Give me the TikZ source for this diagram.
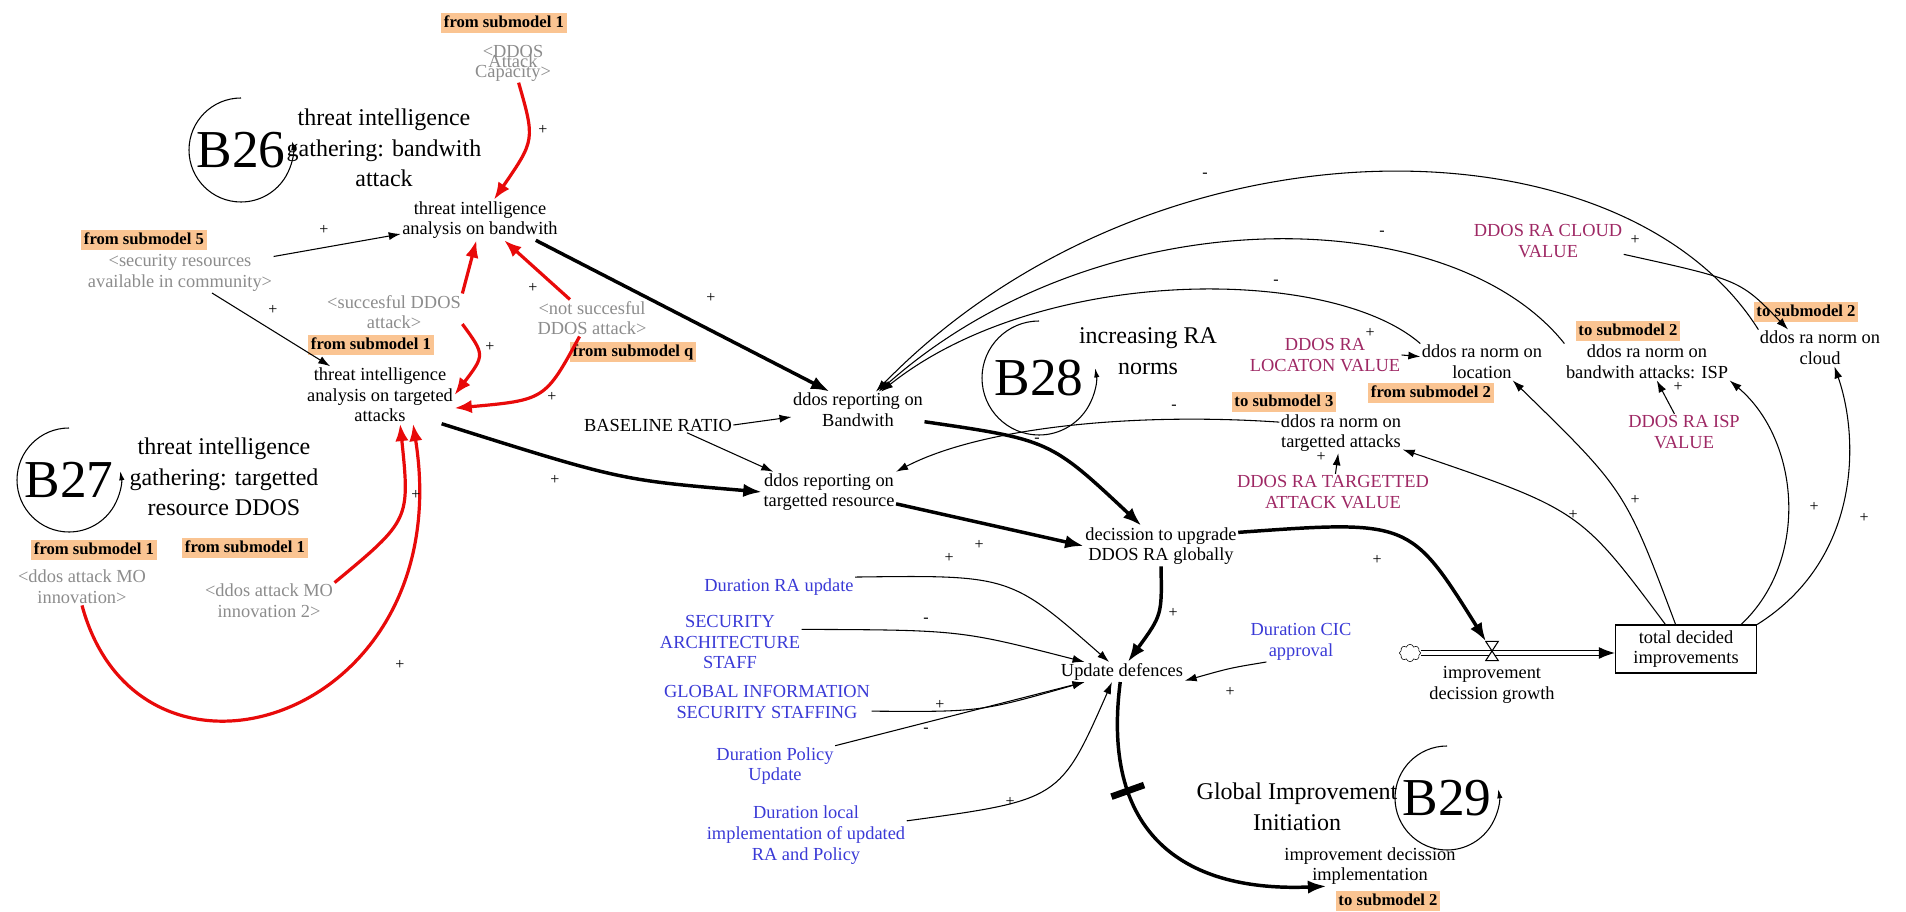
\documentclass[tikz,border=0pt]{standalone}
\usepackage{fontspec}
\setmainfont{Liberation Serif}
\usetikzlibrary{arrows.meta,shapes.symbols,positioning}

\definecolor{tagorange}{RGB}{250,196,146}
\definecolor{shadowgray}{RGB}{140,140,140}
\definecolor{constblue}{RGB}{58,58,214}
\definecolor{valuemagenta}{RGB}{158,40,100}
\definecolor{linkred}{RGB}{232,10,10}
\newcommand\squeezelines{\fontsize{13.8}{7.5}\selectfont\lineskiplimit=-20pt\lineskip=0pt\relax}

\begin{document}
\begin{tikzpicture}[x=0.75pt,y=-0.75pt,
  var/.style={align=center,inner sep=1pt,font=\fontsize{13.8}{15.5}\selectfont},
  shadow/.style={var,text=shadowgray},
  const/.style={var,text=constblue},
  value/.style={var,text=valuemagenta},
  tag/.style={fill=tagorange,inner xsep=2pt,inner ysep=1.5pt,text height=9.5pt,text depth=2.5pt,font=\fontsize{12.5}{14}\selectfont\bfseries},
  looplabel/.style={align=center,inner sep=1pt,font=\fontsize{18}{23}\selectfont},
  loopname/.style={inner sep=0pt,font=\fontsize{40}{40}\selectfont},
  looparc/.style={line width=0.8pt,-{Latex[length=7pt,width=4pt]}},
  link/.style={line width=0.8pt,-{Latex[length=9pt,width=6pt]}},
  thicklink/.style={line width=2.6pt,-{Latex[length=14pt,width=10pt]}},
  redlink/.style={line width=2.4pt,linkred,-{Latex[length=13pt,width=10pt]}},
  pipe/.style={line width=0.8pt,double,double distance=2.5pt,-{Latex[length=12pt,width=9pt]}},
  delaybar/.style={fill=black,inner sep=0pt,minimum width=5pt,minimum height=26pt},
  pol/.style={inner sep=0pt,font=\fontsize{12}{12}\selectfont},
]
\useasboundingbox (0,0) rectangle (1906,912);

% Loops
\node[loopname] (b26) at (241,150) {B26};
\node[looplabel] (b26lbl) at (384,148) {threat intelligence\\gathering: bandwith\\attack};
\draw[looparc] (b26) ++(0,-52) arc[start angle=-90,end angle=-370,radius=52];
\node[loopname] (b27) at (69,480) {B27};
\node[looplabel] (b27lbl) at (224,477) {threat intelligence\\gathering: targetted\\resource DDOS};
\draw[looparc] (b27) ++(0,-52) arc[start angle=-90,end angle=-370,radius=52];
\node[loopname] (b28) at (1039,378) {B28};
\node[looplabel] (b28lbl) at (1148,351) {increasing RA\\norms};
\draw[looparc] (b28) ++(0,-57) arc[start angle=-90,end angle=-370,radius=57];
\node[loopname] (b29) at (1447,798) {B29};
\node[looplabel] (b29lbl) at (1297,807) {Global Improvement\\Initiation};
\draw[looparc] (b29) ++(0,-52) arc[start angle=-90,end angle=-370,radius=52];

% Submodel tags
\node[tag] (tag1) at (504,23) {from submodel 1};
\node[tag] (tag5) at (144,240) {from submodel 5};
\node[tag] (tagsucc) at (371,345) {from submodel 1};
\node[tag] (tagq) at (633,352) {from submodel q};
\node[tag] (taginn) at (94,550) {from submodel 1};
\node[tag] (taginn2) at (245,548) {from submodel 1};
\node[tag] (tagtgt) at (1284,402) {to submodel 3};
\node[tag] (tagloc) at (1431,393) {from submodel 2};
\node[tag] (tagisp) at (1628,331) {to submodel 2};
\node[tag] (tagcld) at (1806,312) {to submodel 2};
\node[tag] (tagimpl) at (1388,901) {to submodel 2};

% Shadow variables
\node[shadow,font=\squeezelines] (cap) at (513,63) {<DDOS\\Attack\\Capacity>};
\node[shadow] (sec) at (180,273) {<security resources\\available in community>};
\node[shadow] (succ) at (394,312) {<succesful DDOS\\attack>};
\node[shadow] (nsucc) at (592,318) {<not succesful\\DDOS attack>};
\node[shadow] (innov) at (82,587) {<ddos attack MO\\innovation>};
\node[shadow] (innov2) at (269,601) {<ddos attack MO\\innovation 2>};

% Variables
\node[var] (tiab) at (480,220) {threat intelligence\\analysis on bandwith};
\node[var] (tiat) at (380,395) {threat intelligence\\analysis on targeted\\attacks};
\node[var] (rbw) at (858,410) {ddos reporting on\\Bandwith};
\node[var] (rtr) at (829,492) {ddos reporting on\\targetted resource};
\node[var] (base) at (658,425) {BASELINE RATIO};
\node[var] (dec) at (1161,546) {decission to upgrade\\DDOS RA globally};
\node[var] (upd) at (1122,672) {Update defences};
\node[var] (nloc) at (1482,362) {ddos ra norm on\\location};
\node[var] (ntgt) at (1341,433) {ddos ra norm on\\targetted attacks};
\node[var] (nisp) at (1647,362) {ddos ra norm on\\bandwith attacks: ISP};
\node[var] (ncld) at (1820,348) {ddos ra norm on\\cloud};
\node[var] (growth) at (1492,685) {improvement\\decission growth};
\node[var] (impl) at (1370,866) {improvement decission\\implementation};
\node[var,draw,line width=0.8pt,minimum width=106pt,minimum height=36pt] (total) at (1686,649) {total decided\\improvements};

% Constants
\node[const] (dra) at (779,587) {Duration RA update};
\node[const] (sarch) at (730,642) {SECURITY\\ARCHITECTURE\\STAFF};
\node[const] (ginfo) at (767,702) {GLOBAL INFORMATION\\SECURITY STAFFING};
\node[const] (dpol) at (775,766) {Duration Policy\\Update};
\node[const] (dloc) at (806,835) {Duration local\\implementation of updated\\RA and Policy};
\node[const] (dcic) at (1301,642) {Duration CIC\\approval};
\node[value] (cval) at (1548,241) {DDOS RA CLOUD\\VALUE};
\node[value] (lval) at (1325,355) {DDOS RA\\LOCATON VALUE};
\node[value] (tval) at (1333,492) {DDOS RA TARGETTED\\ATTACK VALUE};
\node[value] (ival) at (1684,432) {DDOS RA ISP\\VALUE};

% Flow
\node[cloud,draw,cloud puffs=8,aspect=1.2,minimum width=16pt,minimum height=13pt,inner sep=0pt,fill=white] (cl) at (1410,653) {};
\node[inner sep=0pt,minimum width=9pt,minimum height=14pt] (vlv) at (1492,651) {};
\draw[pipe] (cl) -- (cl -| total.west);
\draw[line width=0.8pt,fill=white] (vlv.north west) -- (vlv.north east) -- (vlv.south west) -- (vlv.south east) -- cycle;

% Red links
\draw[redlink] (cap) .. controls (535,140) .. (tiab);
\draw[redlink] (succ.north east) -- (tiab.-100);
\draw[redlink] (nsucc.140) -- (tiab.-40);
\draw[redlink] (succ.-10) .. controls (485,355) .. (tiat.east);
\draw[redlink] (nsucc.-124) .. controls (545,400) .. (tiat.-10);
\draw[redlink] (innov2.north east) .. controls (410,520) .. (tiat.-55);
\draw[redlink] (innov.south) .. controls (140,820) and (460,720) .. (tiat.-41);

% Thin links
\draw[link] (sec.10) -- (tiab.-170);
\draw[link] (sec.-32) -- (tiat.150);
\draw[link] (base.east) -- (rbw.-174);
\draw[link] (base.-15) -- (rtr.160);

% Main chain
\draw[thicklink] (tiab.-20) -- (rbw.147);
\draw[thicklink] (tiat.-25) .. controls (620,480) .. (rtr.west);
\draw[thicklink] (rbw.-10) .. controls (1050,440) .. (dec.134);
\draw[thicklink] (rtr.-10) -- (dec.west);
\draw[thicklink] (dec.south) .. controls (1162,615) .. (upd.60);
\draw[thicklink] (dec.10) .. controls (1410,520) .. (vlv);
\draw[thicklink] (upd.-100) .. controls (1100,840) and (1190,892) .. (impl.-155) node[pos=0.28,sloped,delaybar] {};

% Norms back to reporting
\draw[link] (ncld.north west) .. controls (1620,110) and (1150,110) .. (rbw);
\draw[link] (nisp.north west) .. controls (1450,200) and (1100,195) .. (rbw);
\draw[link] (nloc.north west) .. controls (1330,265) and (1040,265) .. (rbw);
\draw[link] (ntgt.170) .. controls (1130,412) and (980,428) .. (rtr.north east);

% Values and totals
\draw[link] (lval.east) -- (nloc.175);
\draw[link] (tval) -- (ntgt);
\draw[link] (ival) -- (nisp);
\draw[link] (cval.-10) .. controls (1740,280) .. (ncld.150);
\draw[link] (total.130) .. controls (1580,510) .. (ntgt.-15);
\draw[link] (total.113) .. controls (1625,490) .. (nloc.-31);
\draw[link] (total.24) .. controls (1810,560) and (1800,440) .. (nisp.south east);
\draw[link] (total.north east) .. controls (1860,560) and (1860,440) .. (ncld.-52);

% Update defences inputs
\draw[link] (dra.north east) .. controls (1010,575) .. (upd.142);
\draw[link] (sarch.10) .. controls (960,630) .. (upd.165);
\draw[link] (ginfo.-5) .. controls (980,712) .. (upd.-165);
\draw[link] (dpol.north east) -- (upd.-165);
\draw[link] (dloc.8) .. controls (1060,800) .. (upd.-135);
\draw[link] (dcic.-150) .. controls (1230,668) .. (upd.-8);

% Polarities
\foreach \x/\y/\s [count=\i] in {543/130/+,533/288/+,490/347/+,552/397/+,416/495/+,400/665/+,
  324/230/+,273/310/+,711/298/+,555/480/+,979/545/+,949/558/+,926/620/-,940/705/+,926/730/-,
  1010/802/+,1173/613/+,1230/692/+,1377/560/+,1205/175/-,1382/233/-,1276/282/-,1174/407/-,
  1037/440/-,1370/333/+,1321/457/+,1678/387/+,1635/240/+,1573/515/+,1635/500/+,1814/507/+,1864/518/+}
  \node[pol] (pol\i) at (\x,\y) {\s};
\end{tikzpicture}
\end{document}
